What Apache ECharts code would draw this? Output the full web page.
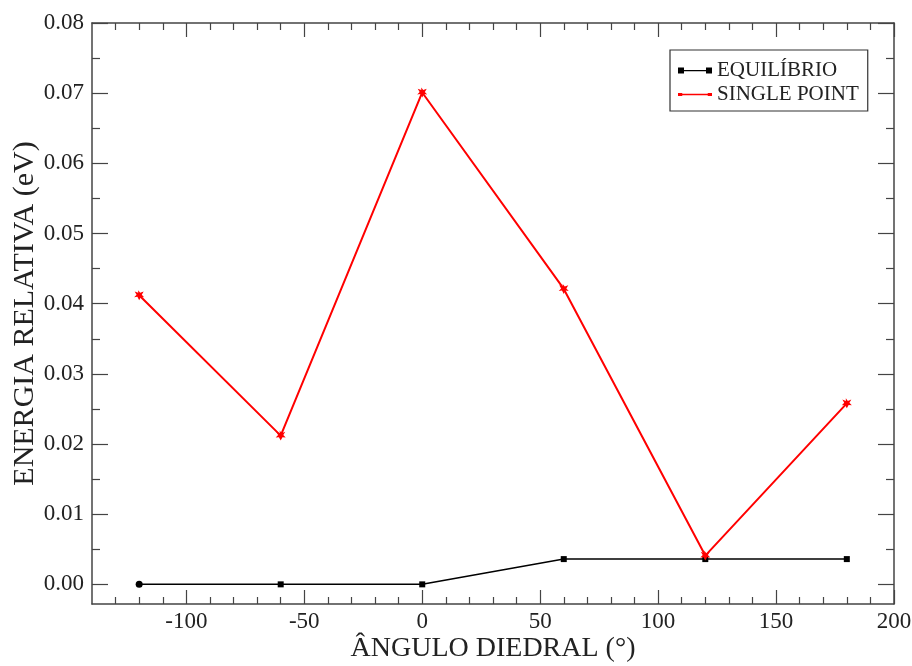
<!DOCTYPE html>
<html>
<head>
<meta charset="utf-8">
<script src="https://cdn.jsdelivr.net/npm/echarts@6/dist/echarts.min.js"></script>
<style>html,body{margin:0;padding:0;background:#fff}#c{width:912px;height:666px}</style>
</head>
<body>
<div id="c"></div>
<script>
const angles = [-120, -60, 0, 60, 120, 180];
const equilibrio = [0.0, 0.0, 0.0, 0.0036, 0.0036, 0.0036];
const singlePoint = [0.0412, 0.0212, 0.0701, 0.0421, 0.0041, 0.0258];
const xMajor = [-100, -50, 0, 50, 100, 150, 200];
const xMinor = [-130, -120, -110, -90, -80, -70, -60, -40, -30, -20, -10, 10, 20, 30, 40, 60, 70, 80, 90, 110, 120, 130, 140, 160, 170, 180, 190];
const yMajor = [0, 0.01, 0.02, 0.03, 0.04, 0.05, 0.06, 0.07, 0.08];
const yMinor = [0.005, 0.015, 0.025, 0.035, 0.045, 0.055, 0.065, 0.075];
const xRange = [-140, 200];
const yRange = [-0.0028, 0.08];

const FONT = 'Liberation Serif';
const AX = '#444';
const chart = echarts.init(document.getElementById('c'), null, {renderer: 'canvas'});

function xAx(pos, vals, len, labels, line) {
  return {
    type: 'value', position: pos, min: xRange[0], max: xRange[1],
    axisLine: {show: line, onZero: false, lineStyle: {color: AX, width: 1.5}},
    axisTick: {show: true, inside: true, length: len, customValues: vals, lineStyle: {color: AX, width: 1.2}},
    axisLabel: labels ? {show: true, customValues: vals, color: '#222', fontFamily: FONT, fontSize: 23, margin: 6, hideOverlap: false} : {show: false},
    splitLine: {show: false}
  };
}
function yAx(pos, vals, len, labels, line) {
  return {
    type: 'value', position: pos, min: yRange[0], max: yRange[1],
    axisLine: {show: line, onZero: false, lineStyle: {color: AX, width: 1.5}},
    axisTick: {show: true, inside: true, length: len, customValues: vals, lineStyle: {color: AX, width: 1.2}},
    axisLabel: labels ? {show: true, customValues: vals, color: '#222', fontFamily: FONT, fontSize: 23, margin: 8,
      formatter: v => v.toFixed(2)} : {show: false},
    splitLine: {show: false}
  };
}

const xAxes = [xAx('bottom', xMajor, 14, true, true), xAx('bottom', xMinor, 7, false, false),
  xAx('top', xMajor, 14, false, true), xAx('top', xMinor, 7, false, false)];
xAxes[0].name = 'ÂNGULO DIEDRAL (°)';
xAxes[0].nameLocation = 'middle';
xAxes[0].nameGap = 31;
xAxes[0].nameMoveOverlap = false;
xAxes[0].nameTextStyle = {fontFamily: FONT, fontSize: 28, color: '#222'};
const yAxes = [yAx('left', yMajor, 16, true, true), yAx('left', yMinor, 8, false, false),
  yAx('right', yMajor, 16, false, true), yAx('right', yMinor, 8, false, false)];
yAxes[0].name = 'ENERGIA RELATIVA (eV)';
yAxes[0].nameLocation = 'middle';
yAxes[0].nameGap = 52;
yAxes[0].nameMoveOverlap = false;
yAxes[0].nameTextStyle = {fontFamily: FONT, fontSize: 30, color: '#222'};

const starPath = 'path://M4,0 L6,2.6 L9.5,1.2 L7.6,4.5 L10,7 L6.8,6.6 L5,10 L3.2,6.6 L0,7 L2.4,4.5 L0.5,1.2 L4,2.6 Z';

const eqData = angles.map((a, i) => i === 0 ? {value: [a, equilibrio[i]], symbol: 'circle', symbolSize: 7} : [a, equilibrio[i]]);
const spData = angles.map((a, i) => [a, singlePoint[i]]);

chart.setOption({
  animation: false,
  backgroundColor: '#fff',
  grid: {left: 92, right: 18, top: 23, bottom: 62, containLabel: false, outerBoundsMode: 'none'},
  xAxis: xAxes,
  yAxis: yAxes,
  legend: {
    show: true, orient: 'vertical', left: 670, top: 50,
    padding: [10, 9, 6, 8], itemGap: 3, itemWidth: 34, itemHeight: 6,
    borderColor: '#333', borderWidth: 1.2, backgroundColor: '#fff',
    textStyle: {fontFamily: FONT, fontSize: 21, color: '#222'},
    data: [
      {name: 'EQUILÍBRIO', icon: 'path://M0,0h6v6h-6z M6,2.5h22v1.2h-22z M28,0h6v6h-6z', itemStyle: {color: '#000'}},
      {name: 'SINGLE POINT', icon: 'path://M1,1.5h4v3h-4z M5,2.4h24v1.4h-24z M29,1.5h4v3h-4z', itemStyle: {color: '#f00'}}
    ]
  },
  series: [
    {name: 'EQUILÍBRIO', type: 'line', xAxisIndex: 0, yAxisIndex: 0, data: eqData,
      symbol: 'rect', symbolSize: 6, showAllSymbol: true,
      lineStyle: {color: '#000', width: 1.5}, itemStyle: {color: '#000'}},
    {name: 'SINGLE POINT', type: 'line', xAxisIndex: 0, yAxisIndex: 0, data: spData,
      symbol: starPath, symbolSize: 10, showAllSymbol: true,
      lineStyle: {color: '#f00', width: 2}, itemStyle: {color: '#f00'}}
  ]
});
</script>
</body>
</html>
